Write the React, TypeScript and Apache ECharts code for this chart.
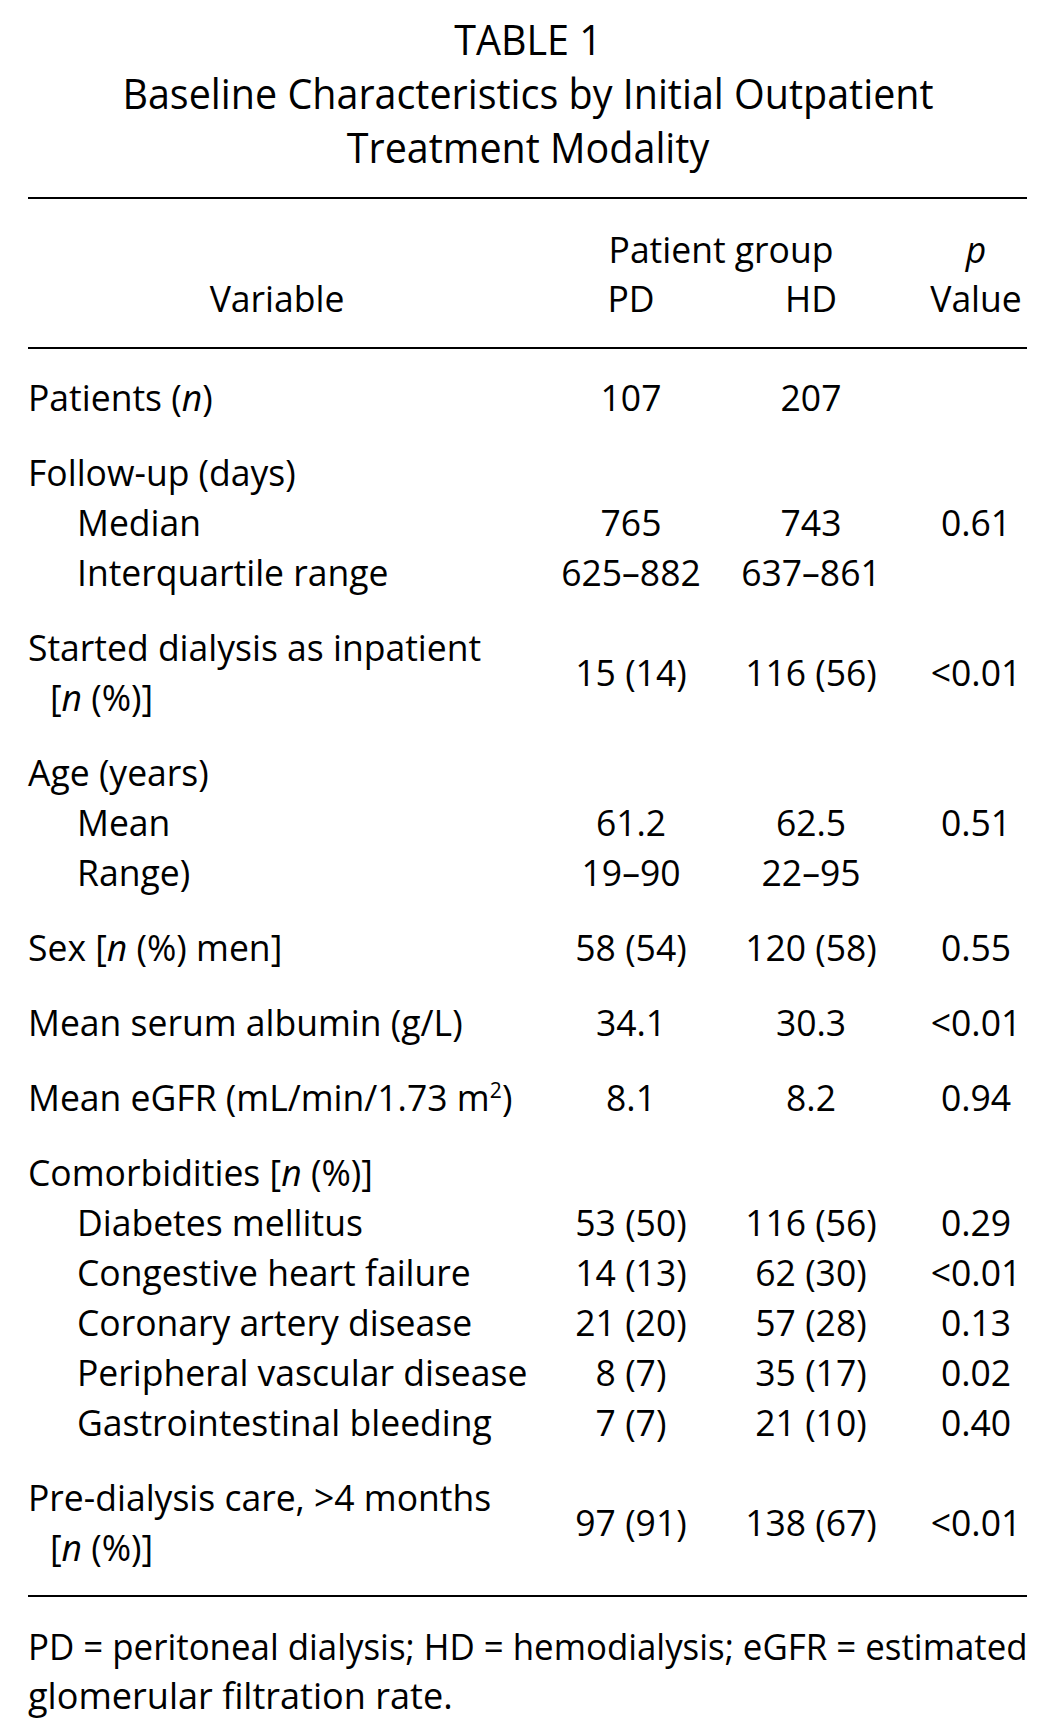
import React, { useEffect, useRef } from "react";
import * as echarts from "echarts";

// ---------- data ----------
const titleLines = ["TABLE 1", "Baseline Characteristics by Initial Outpatient", "Treatment Modality"];
const headerVariable = "Variable";
const headerGroup = "Patient group";
const groupNames = ["PD", "HD"];
const pHeader = ["{i|p}", "Value"];

const variableLabels: string[][] = [
  ["Patients ({i|n})"],
  ["Follow-up (days)"],
  ["Median"],
  ["Interquartile range"],
  ["Started dialysis as inpatient", "[{i|n} (%)]"],
  ["Age (years)"],
  ["Mean"],
  ["Range)"],
  ["Sex [{i|n} (%) men]"],
  ["Mean serum albumin (g/L)"],
  ["Mean eGFR (mL/min/1.73 m{s|2})"],
  ["Comorbidities [{i|n} (%)]"],
  ["Diabetes mellitus"],
  ["Congestive heart failure"],
  ["Coronary artery disease"],
  ["Peripheral vascular disease"],
  ["Gastrointestinal bleeding"],
  ["Pre-dialysis care, >4 months", "[{i|n} (%)]"],
];
const isSubItem = [false, false, true, true, false, false, true, true, false, false, false, false, true, true, true, true, true, false];
const pdValues = ["107", "", "765", "625–882", "15 (14)", "", "61.2", "19–90", "58 (54)", "34.1", "8.1", "", "53 (50)", "14 (13)", "21 (20)", "8 (7)", "7 (7)", "97 (91)"];
const hdValues = ["207", "", "743", "637–861", "116 (56)", "", "62.5", "22–95", "120 (58)", "30.3", "8.2", "", "116 (56)", "62 (30)", "57 (28)", "35 (17)", "21 (10)", "138 (67)"];
const pValues = ["", "", "0.61", "", "<0.01", "", "0.51", "", "0.55", "<0.01", "0.94", "", "0.29", "<0.01", "0.13", "0.02", "0.40", "<0.01"];
const footnoteLines = [
  "PD = peritoneal dialysis; HD = hemodialysis; eGFR = estimated",
  "glomerular filtration rate.",
];

// ---------- layout ----------
const W = 1057;
const H = 1728;
const FONT = "Open Sans";
const FS = 37;
const SX = 0.96;
const FOOT_SX = [0.942, 0.975];
const TITLE_FS = 42;
const TITLE_SX = 0.94;
const WEIGHT = 500;
const LEFT = 28;
const INDENT = 77;
const WRAP_INDENT = 50;
const RIGHT = 1027;
const COL_PD = 631;
const COL_HD = 811;
const COL_P = 976;
const LINE = 50;
const GAP = 25;

const rich = {
  i: { fontFamily: FONT, fontSize: FS, fontWeight: WEIGHT, fontStyle: "italic", fill: "#000" },
  s: { fontFamily: FONT, fontSize: 22, fontWeight: WEIGHT, fill: "#000", verticalAlign: "top" as const },
};

function txt(x: number, y: number, text: string, align: "left" | "center" | "right", fs = FS, sx = SX) {
  return {
    type: "text",
    x,
    y,
    scaleX: sx,
    silent: true,
    style: {
      text,
      fontFamily: FONT,
      fontSize: fs,
      fontWeight: WEIGHT,
      fill: "#000",
      align,
      verticalAlign: "middle",
      rich,
    },
  };
}

function hline(y: number) {
  return {
    type: "line",
    silent: true,
    shape: { x1: LEFT, y1: y, x2: RIGHT, y2: y },
    style: { stroke: "#000", lineWidth: 2 },
  };
}

function buildGraphics() {
  const els: any[] = [];
  // title
  const titleY = [39, 93, 147];
  titleLines.forEach((t, k) => els.push(txt(528, titleY[k], t, "center", TITLE_FS, TITLE_SX)));
  els.push(hline(198));
  // header
  els.push(txt((COL_PD + COL_HD) / 2, 249, headerGroup, "center"));
  els.push(txt(COL_P, 249, pHeader[0], "center"));
  els.push(txt(277, 298, headerVariable, "center"));
  els.push(txt(COL_PD, 298, groupNames[0], "center"));
  els.push(txt(COL_HD, 298, groupNames[1], "center"));
  els.push(txt(COL_P, 298, pHeader[1], "center"));
  els.push(hline(348));
  // body
  let y = 397;
  variableLabels.forEach((lines, r) => {
    if (r > 0) y += isSubItem[r] ? LINE : LINE + GAP;
    const x = isSubItem[r] ? INDENT : LEFT;
    lines.forEach((ln, k) => els.push(txt(k === 0 ? x : WRAP_INDENT, y + k * LINE, ln, "left")));
    const vy = y + ((lines.length - 1) * LINE) / 2;
    if (pdValues[r]) els.push(txt(COL_PD, vy, pdValues[r], "center"));
    if (hdValues[r]) els.push(txt(COL_HD, vy, hdValues[r], "center"));
    if (pValues[r]) els.push(txt(COL_P, vy, pValues[r], "center"));
    y += (lines.length - 1) * LINE;
  });
  const bottom = y + 49;
  els.push(hline(bottom));
  footnoteLines.forEach((t, k) => els.push(txt(LEFT, bottom + 50 + k * 49, t, "left", FS, FOOT_SX[k])));
  return els;
}

export default function App() {
  const ref = useRef<HTMLDivElement>(null);
  useEffect(() => {
    if (!ref.current) return;
    const chart = echarts.init(ref.current, undefined, { renderer: "svg", width: W, height: H });
    chart.setOption({
      animation: false,
      backgroundColor: "#fff",
      graphic: { elements: buildGraphics() },
    });
    return () => chart.dispose();
  }, []);
  return (
    <div
      ref={ref}
      style={{ position: "absolute", left: 0, top: 0, width: W, height: H, background: "#fff" }}
    />
  );
}
